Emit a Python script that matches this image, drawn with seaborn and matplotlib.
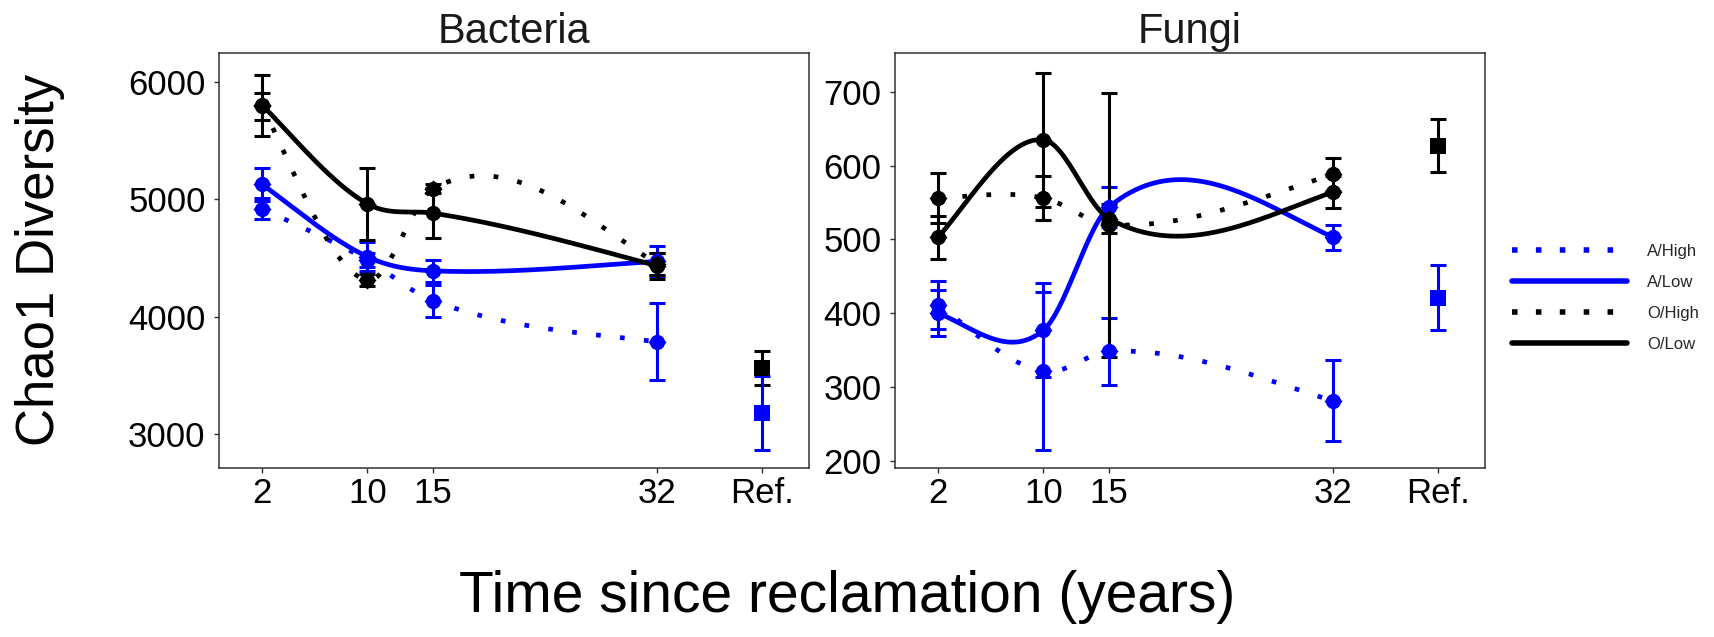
import numpy as np
import pandas as pd
import matplotlib
matplotlib.use("Agg")
import matplotlib.pyplot as plt
import seaborn as sns
from matplotlib.lines import Line2D

# ---------------- data ----------------
time_points = [2, 10, 15, 32]
ref_pos = 40
tick_pos = [2, 10, 15, 32, 40]
tick_labels = ["2", "10", "15", "32", "Ref."]
groups = ["A/High", "A/Low", "O/High", "O/Low"]

# Bacteria
bac_A_high = [4917, 4480, 4134, 3786]
bac_A_high_err = [90, 60, 135, 330]
bac_A_low = [5125, 4509, 4389, 4470]
bac_A_low_err = [140, 122, 92, 128]
bac_O_high = [5790, 4310, 5089, 4447]
bac_O_high_err = [115, 50, 40, 90]
bac_O_low = [5800, 4960, 4880, 4433]
bac_O_low_err = [260, 309, 211, 110]
bac_ref_A, bac_ref_A_err = 3180, 315
bac_ref_O, bac_ref_O_err = 3558, 145

# Fungi
fun_A_high = [411, 321, 348, 281]
fun_A_high_err = [32, 107, 45, 55]
fun_A_low = [400, 377, 544, 503]
fun_A_low_err = [31, 64, 27, 17]
fun_O_high = [556, 556, 520, 588]
fun_O_high_err = [34, 30, 179, 22]
fun_O_low = [503, 635, 528, 564]
fun_O_low_err = [29, 91, 20, 22]
fun_ref_A, fun_ref_A_err = 421, 44
fun_ref_O, fun_ref_O_err = 627, 36

# ---------------- styling ----------------
sns.set_theme(style="white")
plt.rcParams["font.family"] = ["Liberation Sans", "DejaVu Sans"]

colors = {"A/High": "#0000ff", "A/Low": "#0000ff", "O/High": "#000000", "O/Low": "#000000"}
styles = {"A/High": (0, (1, 4.1)), "A/Low": "-", "O/High": (0, (1, 4.1)), "O/Low": "-"}


def natural_spline(x, y, xs):
    x = np.asarray(x, float)
    y = np.asarray(y, float)
    n = len(x)
    h = np.diff(x)
    A = np.zeros((n, n))
    b = np.zeros(n)
    A[0, 0] = 1
    A[-1, -1] = 1
    for i in range(1, n - 1):
        A[i, i - 1] = h[i - 1]
        A[i, i] = 2 * (h[i - 1] + h[i])
        A[i, i + 1] = h[i]
        b[i] = 6 * ((y[i + 1] - y[i]) / h[i] - (y[i] - y[i - 1]) / h[i - 1])
    M = np.linalg.solve(A, b)
    out = np.empty_like(xs)
    for k, xv in enumerate(xs):
        i = min(max(np.searchsorted(x, xv) - 1, 0), n - 2)
        t1 = x[i + 1] - xv
        t0 = xv - x[i]
        out[k] = (M[i] * t1 ** 3 + M[i + 1] * t0 ** 3) / (6 * h[i]) + \
                 (y[i] / h[i] - M[i] * h[i] / 6) * t1 + \
                 (y[i + 1] / h[i] - M[i + 1] * h[i] / 6) * t0
    return out


def hermite_spline(x, y, xs):
    x = np.asarray(x, float)
    y = np.asarray(y, float)
    n = len(x)
    m = np.empty(n)
    m[0] = (y[1] - y[0]) / (x[1] - x[0])
    m[-1] = (y[-1] - y[-2]) / (x[-1] - x[-2])
    for i in range(1, n - 1):
        m[i] = (y[i + 1] - y[i - 1]) / (x[i + 1] - x[i - 1])
    out = np.empty_like(xs)
    for k, xv in enumerate(xs):
        i = min(max(np.searchsorted(x, xv) - 1, 0), n - 2)
        h = x[i + 1] - x[i]
        t = (xv - x[i]) / h
        h00 = 2 * t ** 3 - 3 * t ** 2 + 1
        h10 = t ** 3 - 2 * t ** 2 + t
        h01 = -2 * t ** 3 + 3 * t ** 2
        h11 = t ** 3 - t ** 2
        out[k] = h00 * y[i] + h10 * h * m[i] + h01 * y[i + 1] + h11 * h * m[i + 1]
    return out


def smooth_curve(x, y, xs):
    return 0.35 * natural_spline(x, y, xs) + 0.65 * hermite_spline(x, y, xs)


W, H = 1715, 637
fig = plt.figure(figsize=(W / 100, H / 100), dpi=100)

panel_top, panel_bot = 52.7, 468.0


def make_ax(left, right):
    return fig.add_axes([left / W, 1 - panel_bot / H, (right - left) / W, (panel_bot - panel_top) / H])


ax_b = make_ax(219, 809)
ax_f = make_ax(895, 1485)

panels = [
    (ax_b, "Bacteria",
     {"A/High": (bac_A_high, bac_A_high_err), "A/Low": (bac_A_low, bac_A_low_err),
      "O/High": (bac_O_high, bac_O_high_err), "O/Low": (bac_O_low, bac_O_low_err)},
     [(bac_ref_O, bac_ref_O_err, "#000000"), (bac_ref_A, bac_ref_A_err, "#0000ff")],
     (2710, 6247), [3000, 4000, 5000, 6000]),
    (ax_f, "Fungi",
     {"A/High": (fun_A_high, fun_A_high_err), "A/Low": (fun_A_low, fun_A_low_err),
      "O/High": (fun_O_high, fun_O_high_err), "O/Low": (fun_O_low, fun_O_low_err)},
     [(fun_ref_O, fun_ref_O_err, "#000000"), (fun_ref_A, fun_ref_A_err, "#0000ff")],
     (190, 753), [200, 300, 400, 500, 600, 700]),
]

xs = np.linspace(min(time_points), max(time_points), 300)

for ax, title, data, refs, ylim, yticks in panels:
    # smooth curves
    for g in groups:
        vals, errs = data[g]
        ys = smooth_curve(time_points, vals, xs)
        sns.lineplot(x=xs, y=ys, ax=ax, color=colors[g], linewidth=3.4,
                     linestyle=styles[g], estimator=None, sort=False, legend=False,
                     zorder=2)
    # error bars & points
    for g in groups:
        vals, errs = data[g]
        ax.errorbar(time_points, vals, yerr=errs, fmt="none", ecolor=colors[g],
                    elinewidth=2.2, capsize=5.5, capthick=2.2, zorder=3)
        df = pd.DataFrame({"x": time_points, "y": vals})
        sns.scatterplot(data=df, x="x", y="y", ax=ax, color=colors[g], marker="o",
                        s=120, linewidth=0, zorder=4, legend=False)
        sns.scatterplot(data=df, x="x", y="y", ax=ax, color=colors[g], marker="D",
                        s=85, linewidth=0, zorder=4, legend=False)
    for val, err, col in refs:
        ax.errorbar([ref_pos], [val], yerr=[err], fmt="none", ecolor=col,
                    elinewidth=2.2, capsize=5.5, capthick=2.2, zorder=3)
        sns.scatterplot(x=[ref_pos], y=[val], ax=ax, color=col, marker="s",
                        s=120, linewidth=0, zorder=4, legend=False)

    ax.set_xlim(-1.3, 43.6)
    ax.set_ylim(*ylim)
    ax.set_xticks(tick_pos)
    ax.set_xticklabels(tick_labels)
    ax.set_yticks(yticks)
    ax.set_xlabel("")
    ax.set_ylabel("")
    ax.set_title(title, fontsize=30, pad=7, color="#1a1a1a")
    ax.tick_params(axis="both", which="major", labelsize=25, length=3.6, width=1.0,
                   color="#333333", labelcolor="#000000", direction="out",
                   bottom=True, left=True)
    ax.tick_params(axis="x", pad=3)
    ax.tick_params(axis="y", pad=6)
    for sp in ax.spines.values():
        sp.set_color("#333333")
        sp.set_linewidth(1.1)
        sp.set_visible(True)
    ax.grid(False)

# axis titles
fig.text(40 / W, 1 - 260 / H, "Chao1 Diversity", rotation=90, ha="center", va="center",
         fontsize=38, color="#000000")
fig.text(847 / W, 1 - 612 / H, "Time since reclamation (years)", ha="center", va="baseline",
         fontsize=41, color="#000000")

# legend
handles = [Line2D([0], [0], color=colors[g], linewidth=4.0,
                  linestyle=(0, (1, 3.3)) if "High" in g else "-") for g in groups]
fig.legend(handles, groups, loc="center left", bbox_to_anchor=(1512 / W, 1 - 298 / H),
           frameon=False, fontsize=12, handlelength=6.9, handletextpad=1.2,
           labelspacing=0.95, borderpad=0, borderaxespad=0)

fig.savefig("out.png", dpi=100)
